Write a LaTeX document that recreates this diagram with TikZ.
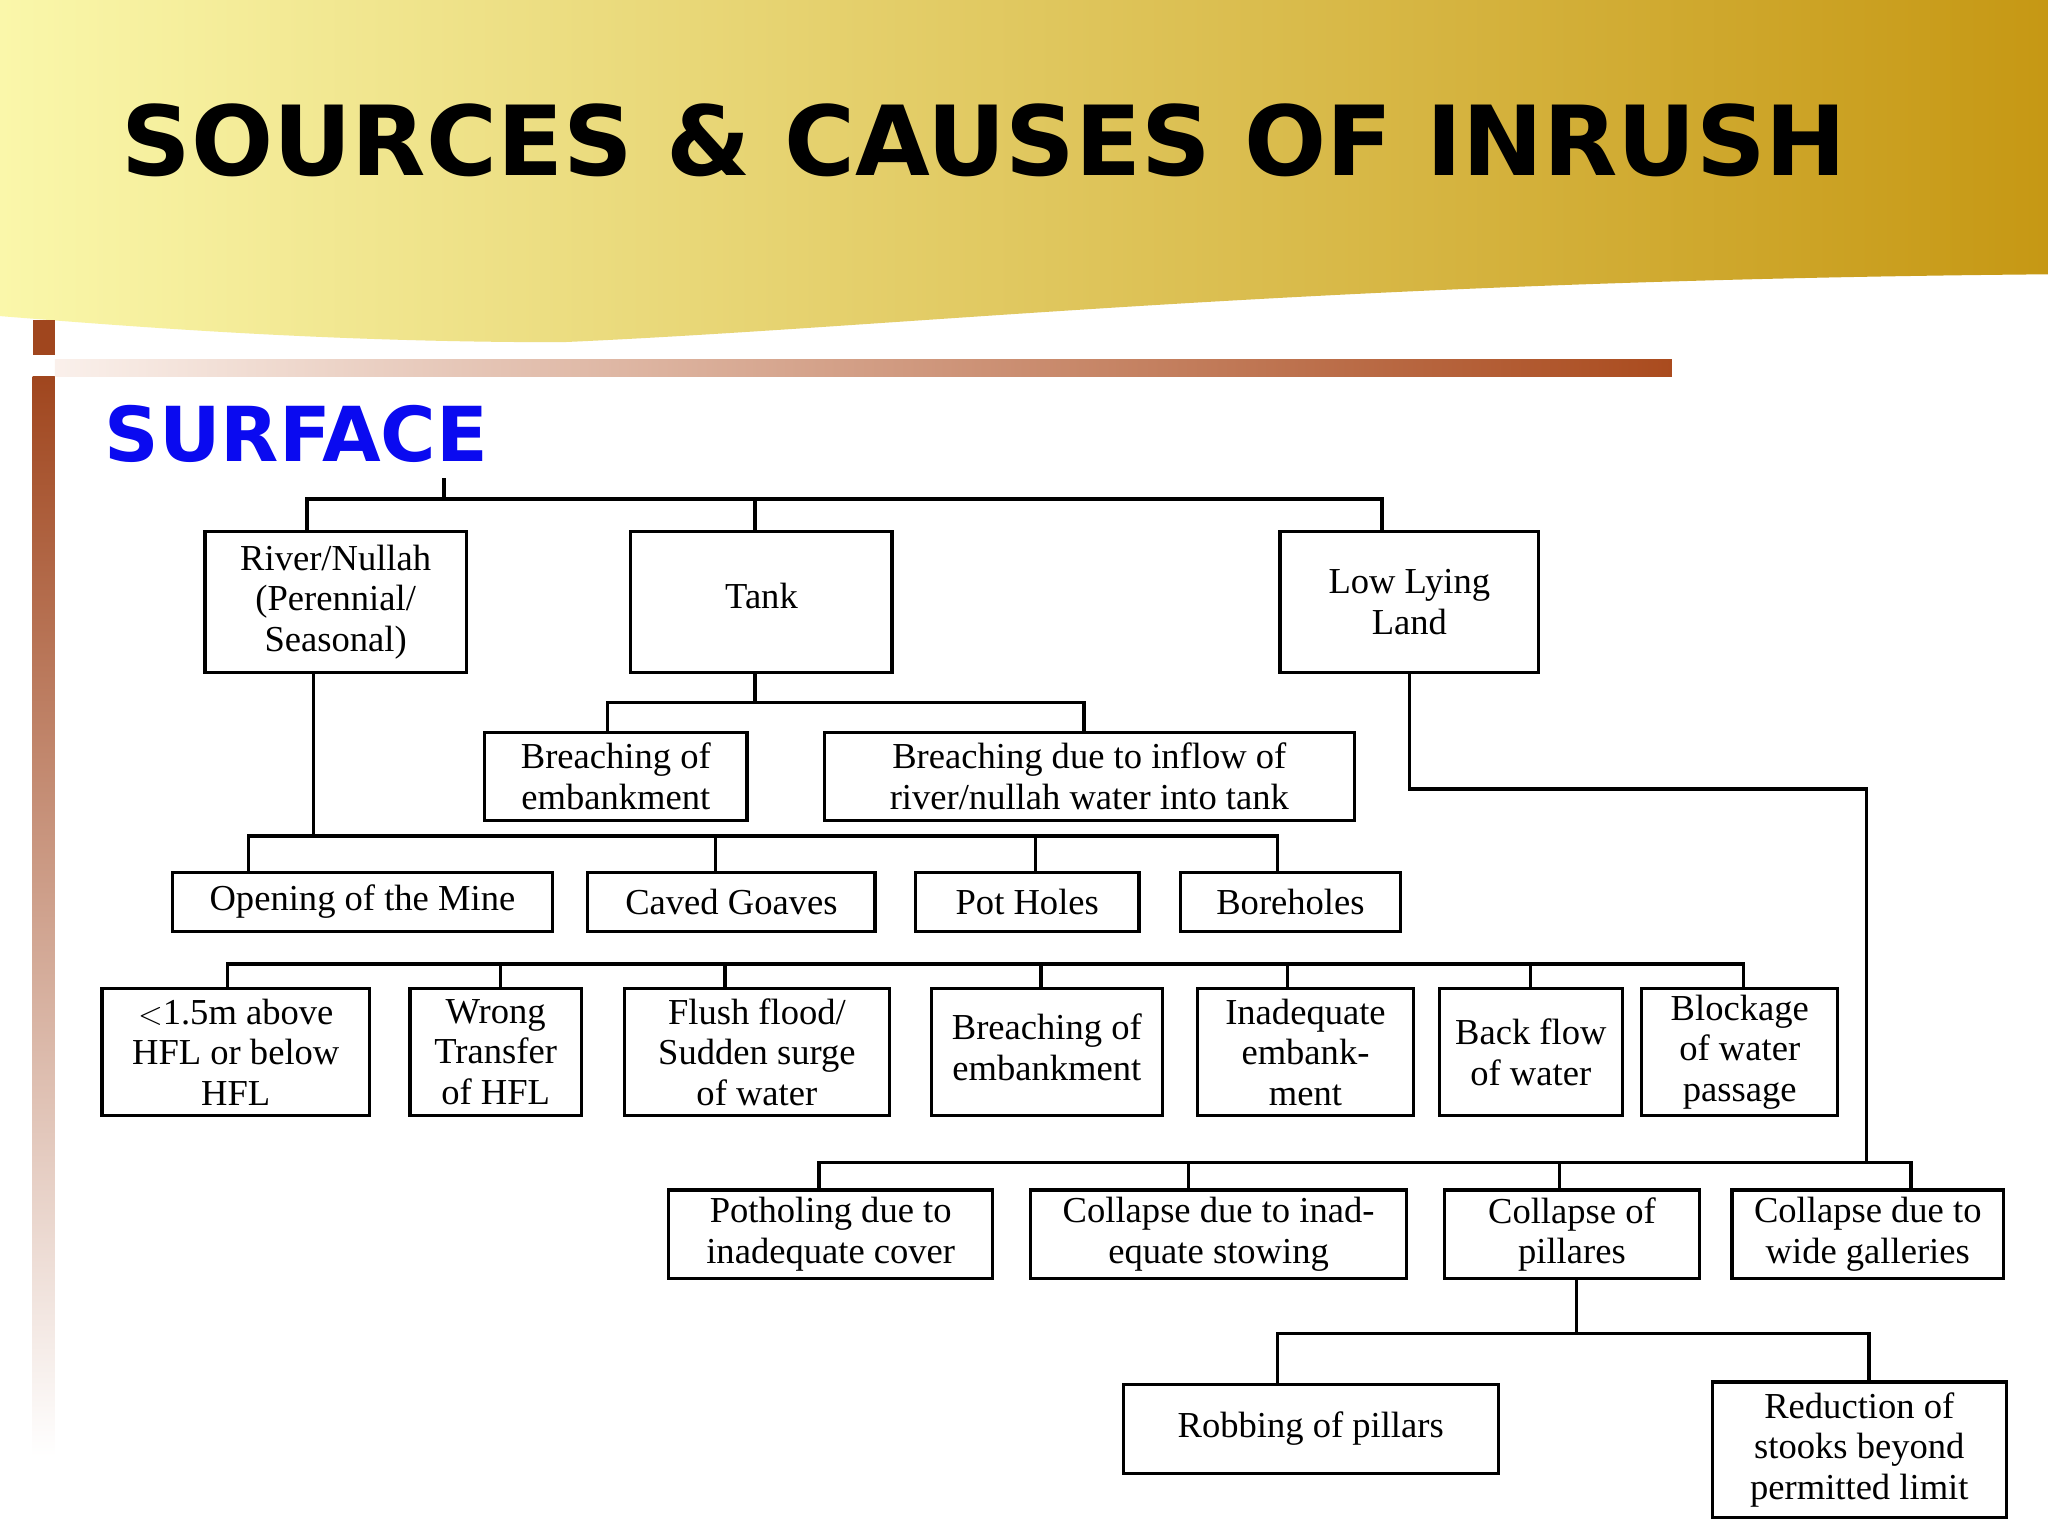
\documentclass[tikz,border=0pt]{standalone}
\usepackage{fontspec}
\setmainfont{Liberation Serif}
\newfontfamily\hdr{DejaVu Sans}
\definecolor{hy}{RGB}{250,247,170}
\definecolor{hg}{RGB}{198,152,20}
\definecolor{brn}{RGB}{160,70,30}
\definecolor{brn2}{RGB}{170,75,30}
\definecolor{pale}{RGB}{250,240,235}
\definecolor{blu}{RGB}{10,10,240}
\begin{document}
\begin{tikzpicture}[x=1pt,y=-1pt,
  bx/.style={draw,line width=2.5pt,inner sep=0pt},
  ln/.style={line width=2.5pt},
  lb/.style={align=center,font=\fontsize{28}{31}\selectfont,inner sep=0pt}]
\useasboundingbox (0,0) rectangle (1568,1176);
\fill[white] (0,0) rectangle (1568,1176);
% header
\shade[left color=hy, right color=hg]
  (0,0) -- (1568,0) -- (1568,210) .. controls (1000,215) and (700,250) .. (430,262) .. controls (250,262) and (100,250) .. (0,242) -- cycle;
\node[anchor=base west,inner sep=0pt,font=\hdr\bfseries\fontsize{74}{80}\selectfont] (title) at (93,134) {SOURCES \& CAUSES OF INRUSH};
% decoration bars
\fill[brn] (25,245) rectangle (42,272);
\shade[top color=brn, bottom color=white] (25,288) rectangle (42,1115);
\shade[left color=pale, right color=brn2] (42,275) rectangle (1280,288);
\node[anchor=base west,inner sep=0pt,text=blu,font=\hdr\bfseries\fontsize{58}{62}\selectfont] (surf) at (80,353) {SURFACE};
% boxes
\newcommand\bbox[6]{\draw[bx] (#2,#3) rectangle (#4,#5); \coordinate (#1) at ({(#2+#4)/2},{(#3+#5)/2}); \node[lb] (#1t) at (#1) {#6};}
\bbox{river}{157}{407}{357}{515}{River/Nullah\\(Perennial/\\Seasonal)}
\bbox{tank}{483}{407}{683}{515}{\raisebox{10pt}{Tank}}
\bbox{low}{980}{407}{1178}{515}{Low Lying\\Land}
\bbox{br1}{371}{561}{572}{628}{Breaching of\\embankment}
\bbox{br2}{631}{561}{1037}{628}{Breaching due to inflow of\\river/nullah water into tank}
\bbox{open}{132}{668}{423}{713}{Opening of the Mine}
\bbox{caved}{450}{668}{670}{713}{Caved Goaves}
\bbox{pot}{701}{668}{872}{713}{Pot Holes}
\bbox{bore}{904}{668}{1072}{713}{Boreholes}
\bbox{hfl}{78}{757}{283}{854}{$<$1.5m above\\HFL or below\\HFL}
\bbox{wrong}{314}{757}{445}{854}{Wrong\\Transfer\\of HFL}
\bbox{flush}{478}{757}{681}{854}{Flush flood/\\Sudden surge\\of water}
\bbox{bemb}{713}{757}{890}{854}{\raisebox{15pt}{\begin{tabular}{@{}c@{}}Breaching of\\embankment\end{tabular}}}
\bbox{inad}{917}{757}{1082}{854}{Inadequate\\embank-\\ment}
\bbox{back}{1102}{757}{1242}{854}{Back flow\\of water}
\bbox{block}{1257}{757}{1407}{854}{Blockage\\of water\\passage}
\bbox{potc}{512}{911}{760}{979}{Potholing due to\\inadequate cover}
\bbox{coll}{789}{911}{1077}{979}{Collapse due to inad-\\equate stowing}
\bbox{colp}{1106}{911}{1301}{979}{Collapse of\\pillares}
\bbox{colw}{1326}{911}{1534}{979}{Collapse due to\\wide galleries}
\bbox{rob}{860}{1060}{1147}{1128}{Robbing of pillars}
\bbox{red}{1311}{1058}{1536}{1162}{Reduction of\\stooks beyond\\permitted limit}
% connectors
\draw[ln] (235,407) -- (235,382) -- (1058,382) -- (1058,407);
\draw[ln] (578,382) -- (578,407);
\draw[ln] (340,366) -- (340,382);
\draw[ln] (578,515) -- (578,538);
\draw[ln] (465,561) -- (465,538) -- (830,538) -- (830,561);
\draw[ln] (240,515) -- (240,640);
\draw[ln] (190,668) -- (190,640) -- (978,640) -- (978,668);
\draw[ln] (548,640) -- (548,668);
\draw[ln] (793,640) -- (793,668);
\draw[ln] (174,757) -- (174,738) -- (1335,738) -- (1335,757);
\foreach \x in {383,555,797,986,1172} \draw[ln] (\x,738) -- (\x,757);
\draw[ln] (1079,515) -- (1079,604) -- (1429,604) -- (1429,890);
\draw[ln] (627,911) -- (627,890) -- (1463,890) -- (1463,911);
\foreach \x in {910,1194} \draw[ln] (\x,890) -- (\x,911);
\draw[ln] (1207,979) -- (1207,1021);
\draw[ln] (978,1060) -- (978,1021) -- (1431,1021) -- (1431,1058);
\end{tikzpicture}
\end{document}
